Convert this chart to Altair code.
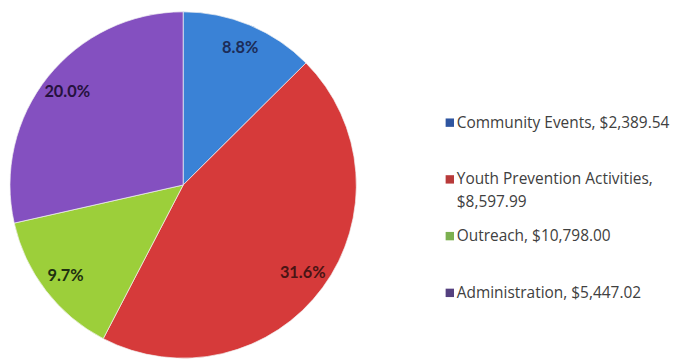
import altair as alt
import pandas as pd

categories = [
    "Community Events, $2,389.54",
    "Youth Prevention Activities, $8,597.99",
    "Outreach, $10,798.00",
    "Administration, $5,447.02",
]
legend_texts = [
    "Community Events, $2,389.54",
    "Youth Prevention Activities,|$8,597.99",
    "Outreach, $10,798.00",
    "Administration, $5,447.02",
]
percents = [8.8, 31.6, 9.7, 20.0]
pct_labels = ["8.8%", "31.6%", "9.7%", "20.0%"]
order = [1, 2, 3, 4]
slice_colors = ["#3a82d6", "#d63a3a", "#9ccf3a", "#8450c0"]
legend_colors = ["#2e55a0", "#b83a3a", "#7cb050", "#54407f"]
label_colors = ["#1c2c58", "#4a1414", "#1e3010", "#26123e"]

df = pd.DataFrame({
    "category": categories,
    "legend_text": legend_texts,
    "value": percents,
    "label": pct_labels,
    "order": order,
})

theta = alt.Theta("value:Q", stack=True)
ordering = alt.Order("order:O")

pie = alt.Chart(df).mark_arc(outerRadius=175, stroke="#f2f2f2", strokeWidth=0.7).encode(
    theta=theta,
    order=ordering,
    color=alt.Color("category:N", sort=categories,
                    scale=alt.Scale(domain=categories, range=slice_colors), legend=None),
)

labels = alt.Chart(df).mark_text(radius=150, font="Lato", fontSize=16.5, fontWeight="bold").encode(
    theta=theta,
    order=ordering,
    text="label:N",
    color=alt.Color("category:N", sort=categories,
                    scale=alt.Scale(domain=categories, range=label_colors), legend=None),
)

pie_chart = alt.layer(pie, labels).resolve_scale(color="independent").properties(
    width=352, height=348
)

row_y = alt.Y("order:O", axis=None,
              scale=alt.Scale(type="point", padding=0, range=[111, 283]))

swatches = alt.Chart(df).mark_point(shape="square", filled=True, size=72, opacity=1).encode(
    y=row_y,
    fill=alt.Fill("category:N", sort=categories,
                  scale=alt.Scale(domain=categories, range=legend_colors), legend=None),
)

legend_labels = alt.Chart(df).mark_text(
    align="left", baseline="middle", dx=7, font="Open Sans", fontSize=15.6,
    color="#404040", lineBreak="|", lineHeight=23,
).encode(
    y=row_y,
    text="legend_text:N",
)

legend_chart = alt.layer(swatches, legend_labels).properties(width=1, height=348)

chart = alt.hconcat(pie_chart, legend_chart, spacing=88).properties(
    padding=0,
).configure_view(stroke=None)

chart.save("out.html", embed_options={"renderer": "svg", "actions": False})
